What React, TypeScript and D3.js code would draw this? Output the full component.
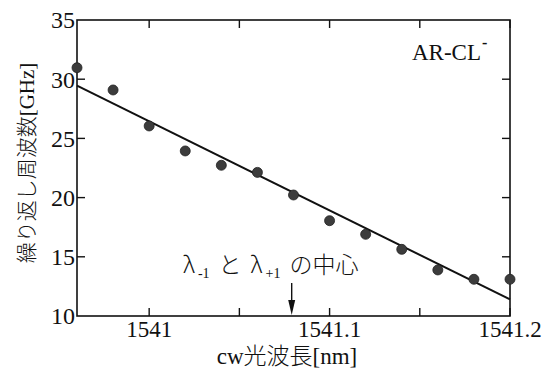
import React from "react";
import * as d3 from "d3";

// cw wavelength [nm] and repetition frequency [GHz]
const wavelengths = [1540.96, 1540.98, 1541.0, 1541.02, 1541.04, 1541.06, 1541.08, 1541.1, 1541.12, 1541.14, 1541.16, 1541.18, 1541.2];
const frequencies = [30.97, 29.09, 26.05, 23.94, 22.73, 22.13, 20.22, 18.05, 16.9, 15.63, 13.89, 13.1, 13.1];

// fitted line, read at the two ends of the x range
const fitX = [1540.96, 1541.2];
const fitY = [29.45, 11.4];

const xTicks = [1541, 1541.1, 1541.2];
const xMinorTicks = [1541.05, 1541.15];
const yTicks = [10, 15, 20, 25, 30, 35];

const arrowAt = 1541.079;

const W = 555;
const H = 374;
const margin = { top: 20, right: 45, bottom: 58, left: 77 };

const serif = "'Liberation Serif', 'Times New Roman', 'DejaVu Serif', serif";
const cjk = "'Noto Sans CJK JP', sans-serif";

export default function App() {
  const x = d3.scaleLinear().domain([1540.96, 1541.2]).range([margin.left, W - margin.right]);
  const y = d3.scaleLinear().domain([10, 35]).range([H - margin.bottom, margin.top]);

  const line = d3
    .line<number>()
    .x((_, i) => x(fitX[i]))
    .y((d) => y(d));

  const x0 = x.range()[0];
  const x1 = x.range()[1];
  const y0 = y.range()[0];
  const y1 = y.range()[1];
  const tick = 8;

  const ax = x(arrowAt);

  return (
    <svg
      width={W}
      height={H}
      style={{ position: "absolute", left: 0, top: 0, background: "#fff", fontFamily: serif }}
    >
      {/* frame */}
      <rect x={x0} y={y1} width={x1 - x0} height={y0 - y1} fill="none" stroke="#111" strokeWidth={1.6} />

      {/* x ticks, bottom and top, inward */}
      {[...xTicks, ...xMinorTicks].map((t) => (
        <g key={"xt" + t}>
          <line x1={x(t)} x2={x(t)} y1={y0} y2={y0 - tick} stroke="#111" strokeWidth={1.4} />
          <line x1={x(t)} x2={x(t)} y1={y1} y2={y1 + tick} stroke="#111" strokeWidth={1.4} />
        </g>
      ))}
      {xTicks.map((t) => (
        <text key={"xl" + t} x={x(t)} y={y0 + 21} textAnchor="middle" fontSize={23} fill="#111">
          {t === 1541 ? "1541" : t.toFixed(1)}
        </text>
      ))}

      {/* y ticks, left and right, inward */}
      {yTicks.slice(1, -1).map((t) => (
        <g key={"yt" + t}>
          <line x1={x0} x2={x0 + tick} y1={y(t)} y2={y(t)} stroke="#111" strokeWidth={1.4} />
          <line x1={x1} x2={x1 - tick} y1={y(t)} y2={y(t)} stroke="#111" strokeWidth={1.4} />
        </g>
      ))}
      {yTicks.map((t) => (
        <text key={"yl" + t} x={x0 - 2} y={y(t)} dy="0.35em" textAnchor="end" fontSize={24} fill="#111">
          {t}
        </text>
      ))}

      {/* fit line */}
      <path d={line(fitY) || ""} fill="none" stroke="#111" strokeWidth={2} />

      {/* data points */}
      {wavelengths.map((w, i) => (
        <circle key={w} cx={x(w)} cy={y(frequencies[i])} r={5} fill="#3c3c3c" stroke="#222" strokeWidth={0.8} />
      ))}

      {/* AR-CL label */}
      <text x={412} y={60} fontSize={23} fill="#111">
        AR-CL
        <tspan dx={1} dy={-12} fontSize={16} fontWeight={700}>
          -
        </tspan>
      </text>

      {/* annotation */}
      <text x={183} y={273} fontSize={23} fill="#111" style={{ fontFamily: cjk, fontWeight: 300 }}>
        λ
        <tspan fontSize={14} dx={3} dy={5} style={{ fontFamily: serif }}>-1</tspan>
        <tspan dy={-5} dx={9}>と</tspan>
        <tspan dx={9}>λ</tspan>
        <tspan fontSize={14} dx={3} dy={5} style={{ fontFamily: serif }}>+1</tspan>
        <tspan dy={-5} dx={9}>の中心</tspan>
      </text>
      <line x1={ax} x2={ax} y1={283} y2={302} stroke="#111" strokeWidth={1.4} />
      <path d={`M${ax - 3.5},${300} L${ax + 3.5},${300} L${ax},${y0 - 1} Z`} fill="#111" />

      {/* axis titles */}
      <text x={287} y={364} textAnchor="middle" fontSize={23} fill="#111">
        cw<tspan style={{ fontFamily: cjk, fontWeight: 300 }}>光波長</tspan>[nm]
      </text>
      <text
        transform={`translate(34,${163}) rotate(-90)`}
        textAnchor="middle"
        fontSize={21}
        fill="#111"
      >
        <tspan style={{ fontFamily: cjk, fontWeight: 300 }}>繰り返し周波数</tspan>[GHz]
      </text>
    </svg>
  );
}
